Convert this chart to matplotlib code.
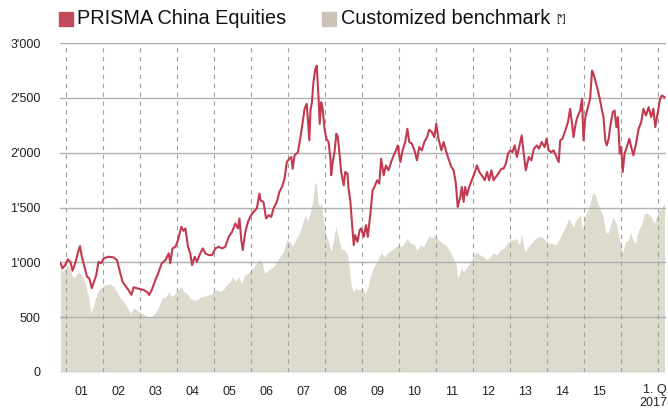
import numpy as np
import matplotlib
matplotlib.use("Agg")
import matplotlib.pyplot as plt
from matplotlib.patches import Rectangle
from matplotlib.ticker import FuncFormatter

plt.rcParams['font.family'] = ['Liberation Sans', 'DejaVu Sans']

# PRISMA China Equities (fractional year, index value)
fund_t = [2000.85, 2000.91, 2000.98, 2001.05, 2001.12, 2001.18, 2001.25, 2001.32, 2001.38, 2001.43,
          2001.51, 2001.57, 2001.63, 2001.70, 2001.76, 2001.82, 2001.88, 2001.95, 2002.02, 2002.15,
          2002.29, 2002.38, 2002.47, 2002.53, 2002.61, 2002.69, 2002.77, 2002.83, 2002.92, 2003.01,
          2003.10, 2003.19, 2003.25, 2003.32, 2003.42, 2003.51, 2003.59, 2003.69, 2003.78, 2003.82,
          2003.88, 2003.96, 2004.03, 2004.12, 2004.18, 2004.23, 2004.30, 2004.36, 2004.41, 2004.48,
          2004.54, 2004.63, 2004.70, 2004.77, 2004.86, 2004.95, 2005.04, 2005.13, 2005.22, 2005.31,
          2005.40, 2005.49, 2005.58, 2005.65, 2005.69, 2005.74, 2005.78, 2005.85, 2005.92, 2005.98,
          2006.07, 2006.16, 2006.23, 2006.26, 2006.34, 2006.41, 2006.48, 2006.55, 2006.61, 2006.70,
          2006.77, 2006.84, 2006.91, 2006.97, 2007.04, 2007.09, 2007.13, 2007.18, 2007.27, 2007.34,
          2007.40, 2007.45, 2007.51, 2007.58, 2007.61, 2007.65, 2007.69, 2007.74, 2007.78, 2007.83,
          2007.86, 2007.90, 2007.94, 2007.99, 2008.04, 2008.10, 2008.15, 2008.17, 2008.21, 2008.26,
          2008.31, 2008.35, 2008.40, 2008.44, 2008.51, 2008.55, 2008.61, 2008.64, 2008.69, 2008.73,
          2008.78, 2008.82, 2008.88, 2008.94, 2008.98, 2009.05, 2009.11, 2009.16, 2009.23, 2009.29,
          2009.34, 2009.41, 2009.47, 2009.52, 2009.59, 2009.65, 2009.72, 2009.79, 2009.86, 2009.92,
          2009.97, 2010.04, 2010.10, 2010.17, 2010.23, 2010.28, 2010.35, 2010.42, 2010.49, 2010.55,
          2010.62, 2010.69, 2010.76, 2010.82, 2010.89, 2010.96, 2011.01, 2011.07, 2011.15, 2011.21,
          2011.27, 2011.34, 2011.42, 2011.48, 2011.54, 2011.59, 2011.66, 2011.70, 2011.75, 2011.79,
          2011.84, 2011.90, 2011.97, 2012.04, 2012.11, 2012.17, 2012.24, 2012.32, 2012.38, 2012.44,
          2012.50, 2012.56, 2012.62, 2012.69, 2012.77, 2012.83, 2012.89, 2012.95, 2013.01, 2013.07,
          2013.13, 2013.19, 2013.25, 2013.32, 2013.37, 2013.43, 2013.51, 2013.58, 2013.65, 2013.73,
          2013.79, 2013.86, 2013.94, 2013.99, 2014.05, 2014.12, 2014.18, 2014.24, 2014.32, 2014.36,
          2014.42, 2014.50, 2014.57, 2014.63, 2014.68, 2014.72, 2014.77, 2014.81, 2014.86, 2014.90,
          2014.95, 2014.99, 2015.04, 2015.11, 2015.17, 2015.22, 2015.26, 2015.31, 2015.38, 2015.44,
          2015.49, 2015.53, 2015.58, 2015.62, 2015.67, 2015.71, 2015.78, 2015.83, 2015.88, 2015.92,
          2015.97, 2016.01, 2016.05, 2016.10, 2016.16, 2016.23, 2016.28, 2016.34, 2016.41, 2016.48,
          2016.55, 2016.61, 2016.68, 2016.75, 2016.82, 2016.88, 2016.93, 2016.99, 2017.06, 2017.11,
          2017.18]
fund_v = [996, 945, 975, 1027, 1005, 924, 991, 1082, 1148, 1051,
          945, 869, 855, 764, 824, 884, 1005, 991, 1036, 1051,
          1045, 1021, 900, 824, 784, 748, 703, 773, 764, 755,
          748, 730, 703, 748, 839, 915, 991, 1021, 1082, 991,
          1127, 1142, 1203, 1324, 1287, 1309, 1142, 1082, 975, 1051,
          1005, 1082, 1127, 1082, 1066, 1066, 1127, 1142, 1127, 1142,
          1233, 1278, 1354, 1309, 1400, 1203, 1112, 1278, 1369, 1414,
          1460, 1491, 1627, 1566, 1551, 1400, 1430, 1414, 1491, 1551,
          1642, 1687, 1764, 1914, 1945, 1960, 1854, 1975, 2005, 2142,
          2278, 2400, 2445, 2112, 2384, 2460, 2642, 2763, 2793, 2491,
          2263, 2460, 2400, 2218, 2127, 2097, 1945, 1794, 1914, 2005,
          2172, 2142, 1975, 1824, 1703, 1824, 1809, 1672, 1551, 1369,
          1157, 1248, 1187, 1293, 1309, 1233, 1339, 1233, 1445, 1657,
          1687, 1748, 1718, 1945, 1794, 1884, 1839, 1914, 1975, 2021,
          2066, 1914, 2021, 2097, 2218, 2097, 2082, 2021, 1930, 2051,
          2021, 2097, 2142, 2209, 2188, 2142, 2263, 2127, 2021, 2097,
          2021, 1945, 1869, 1839, 1718, 1505, 1596, 1687, 1551, 1687,
          1612, 1687, 1748, 1809, 1884, 1824, 1794, 1748, 1824, 1748,
          1839, 1748, 1778, 1809, 1854, 1854, 1900, 1990, 2021, 2005,
          2066, 1960, 2051, 2157, 2005, 1839, 1960, 1930, 2036, 2066,
          2036, 2097, 2051, 2127, 2021, 2005, 2021, 1975, 1914, 2112,
          2127, 2203, 2278, 2400, 2263, 2142, 2248, 2309, 2354, 2384,
          2491, 2112, 2324, 2415, 2491, 2748, 2718, 2657, 2566, 2475,
          2384, 2324, 2112, 2066, 2127, 2233, 2369, 2384, 2233, 2324,
          1991, 2051, 1824, 1991, 2051, 2127, 2051, 1975, 2082, 2218,
          2278, 2400, 2339, 2415, 2324, 2400, 2233, 2354, 2491, 2521,
          2506]

# Customized benchmark
bench_t = [2000.85, 2000.91, 2000.96, 2001.03, 2001.07, 2001.15, 2001.21, 2001.27, 2001.34, 2001.43,
           2001.52, 2001.61, 2001.68, 2001.75, 2001.84, 2001.93, 2002.06, 2002.20, 2002.29, 2002.38,
           2002.47, 2002.56, 2002.65, 2002.74, 2002.83, 2002.92, 2003.04, 2003.15, 2003.24, 2003.32,
           2003.42, 2003.51, 2003.59, 2003.70, 2003.79, 2003.86, 2003.96, 2004.03, 2004.12, 2004.18,
           2004.27, 2004.36, 2004.45, 2004.54, 2004.63, 2004.72, 2004.81, 2004.90, 2004.99, 2005.08,
           2005.17, 2005.26, 2005.35, 2005.44, 2005.51, 2005.58, 2005.67, 2005.74, 2005.83, 2005.92,
           2006.03, 2006.12, 2006.21, 2006.30, 2006.37, 2006.48, 2006.61, 2006.75, 2006.88, 2006.97,
           2007.06, 2007.13, 2007.20, 2007.29, 2007.38, 2007.47, 2007.54, 2007.61, 2007.67, 2007.72,
           2007.77, 2007.81, 2007.86, 2007.90, 2007.96, 2008.03, 2008.10, 2008.17, 2008.24, 2008.30,
           2008.37, 2008.44, 2008.53, 2008.61, 2008.66, 2008.71, 2008.77, 2008.84, 2008.91, 2009.00,
           2009.09, 2009.16, 2009.23, 2009.32, 2009.41, 2009.52, 2009.61, 2009.72, 2009.81, 2009.92,
           2009.99, 2010.08, 2010.22, 2010.31, 2010.40, 2010.49, 2010.58, 2010.67, 2010.76, 2010.82,
           2010.91, 2010.98, 2011.07, 2011.18, 2011.27, 2011.36, 2011.45, 2011.54, 2011.59, 2011.69,
           2011.75, 2011.84, 2011.93, 2012.02, 2012.11, 2012.20, 2012.29, 2012.38, 2012.47, 2012.56,
           2012.65, 2012.74, 2012.83, 2012.92, 2013.01, 2013.10, 2013.19, 2013.25, 2013.32, 2013.40,
           2013.49, 2013.58, 2013.67, 2013.78, 2013.86, 2013.96, 2014.05, 2014.14, 2014.24, 2014.32,
           2014.41, 2014.50, 2014.59, 2014.66, 2014.72, 2014.78, 2014.86, 2014.91, 2014.96, 2015.02,
           2015.11, 2015.20, 2015.24, 2015.31, 2015.38, 2015.47, 2015.53, 2015.59, 2015.65, 2015.71,
           2015.78, 2015.83, 2015.89, 2015.96, 2016.01, 2016.05, 2016.12, 2016.21, 2016.26, 2016.32,
           2016.39, 2016.48, 2016.57, 2016.64, 2016.73, 2016.82, 2016.91, 2016.97, 2017.04, 2017.11,
           2017.18]
bench_v = [945, 915, 936, 960, 975, 900, 855, 884, 915, 884,
           809, 687, 536, 612, 718, 764, 794, 803, 778, 733,
           673, 642, 596, 536, 582, 566, 536, 515, 491, 505,
           542, 596, 673, 687, 733, 687, 718, 748, 778, 733,
           718, 673, 657, 657, 682, 687, 703, 703, 733, 748,
           733, 755, 794, 824, 869, 824, 869, 809, 884, 900,
           945, 975, 1030, 1005, 900, 930, 960, 1036, 1096, 1203,
           1187, 1142, 1203, 1248, 1339, 1430, 1369, 1460, 1551, 1703,
           1733, 1551, 1505, 1551, 1400, 1248, 1187, 1096, 1233, 1324,
           1218, 1127, 1112, 1066, 945, 794, 733, 764, 748, 764,
           718, 764, 869, 960, 1005, 1087, 1051, 1096, 1112, 1142,
           1157, 1142, 1218, 1173, 1173, 1112, 1157, 1142, 1203, 1248,
           1218, 1248, 1203, 1173, 1157, 1112, 1051, 991, 855, 945,
           915, 960, 991, 1066, 1096, 1066, 1051, 1021, 1051, 1087,
           1066, 1112, 1127, 1173, 1203, 1203, 1218, 1157, 1257, 1096,
           1142, 1173, 1209, 1233, 1233, 1203, 1173, 1173, 1157, 1200,
           1264, 1324, 1400, 1354, 1324, 1384, 1414, 1430, 1293, 1414,
           1475, 1566, 1642, 1612, 1536, 1460, 1400, 1278, 1264, 1324,
           1414, 1384, 1339, 1203, 1173, 1082, 1187, 1203, 1278, 1203,
           1173, 1293, 1354, 1445, 1445, 1414, 1354, 1430, 1475, 1505,
           1536]

years = list(range(2001, 2016))
year_labels = ["%02d" % (y - 2000) for y in years]
y_ticks = [0, 500, 1000, 1500, 2000, 2500, 3000]

red = '#c23a50'
red_patch = '#c24a5c'
beige = '#dddace'
beige_patch = '#cbc3b4'
grid = '#b0b0b0'

fig = plt.figure(figsize=(6.68, 4.08), dpi=100)
ax = fig.add_axes([60 / 668, 36 / 408, 606 / 668, 329 / 408])

ax.fill_between(bench_t, 0, bench_v, color=beige, linewidth=0, zorder=1)
for y in y_ticks:
    ax.axhline(y, color=grid, lw=1.0, zorder=2)
for y in range(2001, 2018):
    ax.axvline(y, color='#a0a0a0', lw=0.8, ls=(0, (4, 4)), zorder=2)
ax.plot(fund_t, fund_v, color=red, lw=1.5, zorder=3)

ax.set_xlim(2000.84, 2017.22)
ax.set_ylim(0, 3000)
for s in ax.spines.values():
    s.set_visible(False)

ax.set_yticks(y_ticks)
ax.yaxis.set_major_formatter(FuncFormatter(lambda v, p: "{:,.0f}".format(v).replace(",", "'")))
ax.tick_params(axis='y', length=0, pad=14, labelsize=9, labelcolor='#222222')
ax.set_xticks([y + 0.42 for y in years])
ax.set_xticklabels(year_labels)
ax.tick_params(axis='x', length=0, pad=10, labelsize=9, labelcolor='#222222')

fig.text(667 / 668, 1 - 390 / 408, "1. Q", ha='right', va='center', fontsize=9, color='#222222')
fig.text(667 / 668, 1 - 403 / 408, "2017", ha='right', va='center', fontsize=9, color='#222222')

# legend
fig.patches.append(Rectangle((59 / 668, 1 - 26 / 408), 14 / 668, 14 / 408,
                             transform=fig.transFigure, color=red_patch, figure=fig))
fig.text(77 / 668, 1 - 19 / 408, "PRISMA China Equities", ha='left', va='center',
         fontsize=14.3, color='#111111')
fig.patches.append(Rectangle((322 / 668, 1 - 26 / 408), 14 / 668, 14 / 408,
                             transform=fig.transFigure, color=beige_patch, figure=fig))
fig.text(341 / 668, 1 - 19 / 408, "Customized benchmark", ha='left', va='center',
         fontsize=14.3, color='#111111')
fig.text(556 / 668, 1 - 19 / 408, "[*]", ha='left', va='center', fontsize=7, color='#111111')

fig.savefig("out.png", dpi=100)
